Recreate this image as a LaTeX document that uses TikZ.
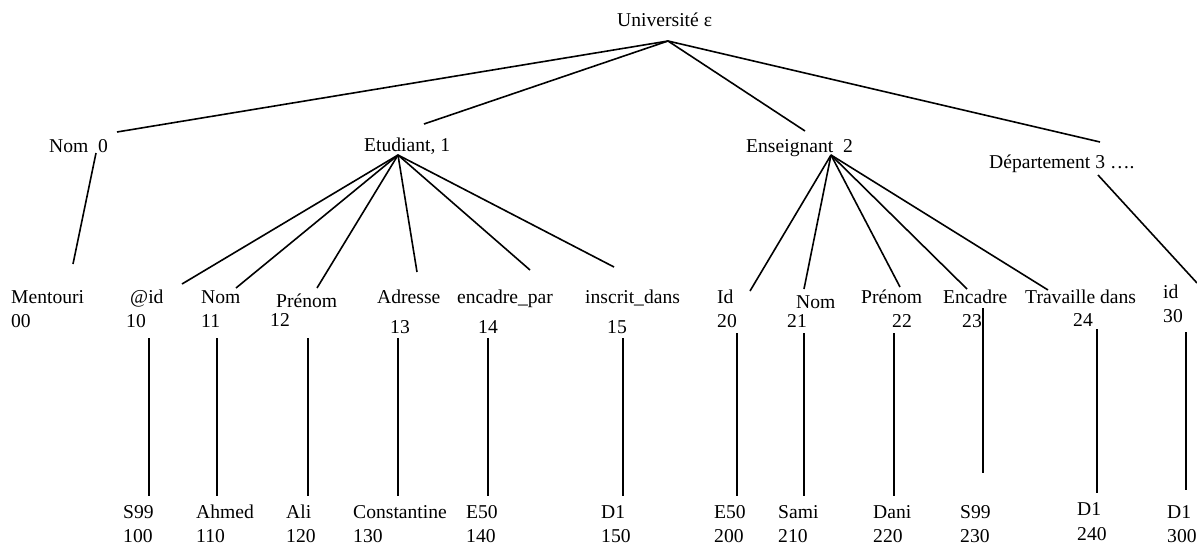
\documentclass[tikz,border=0pt]{standalone}
\usepackage{fontspec}
\setmainfont{Liberation Serif}
\begin{document}
\begin{tikzpicture}[x=1pt,y=-1pt,
  lbl/.style={anchor=base west,inner sep=0pt,font=\fontsize{19.6}{23}\selectfont},
  edge/.style={line width=1.6pt}]
\useasboundingbox (0,0) rectangle (1197,544);

% ---- root ----
\node[lbl] (univ) at (617,26) {Université ε};
\coordinate (univA) at (668,41);

% ---- first level ----
\node[lbl] (nom0) at (49,152) {Nom\ \ 0};
\node[lbl] (etu)  at (364,151) {Etudiant, 1};
\node[lbl] (ens)  at (746,152) {Enseignant\ \ 2};
\node[lbl] (dep)  at (989,168) {Département 3 ….};

\coordinate (nom0T) at (117,132);
\coordinate (etuT)  at (424,124);
\coordinate (ensT)  at (805,131);
\coordinate (depT)  at (1100,142);

\foreach \e in {nom0T,etuT,ensT,depT} \draw[edge] (univA) -- (\e);

% ---- second level: Nom ----
\node[lbl] (ment) at (11,303) {Mentouri};
\node[lbl] (n00)  at (11,327) {00};
\coordinate (nom0B) at (96,153);
\coordinate (mentT) at (73,264);
\draw[edge] (nom0B) -- (mentT);

% ---- second level: Etudiant ----
\node[lbl] (eid)  at (130,303) {@id};
\node[lbl] (n10)  at (126,327) {10};
\node[lbl] (enom) at (201,303) {Nom};
\node[lbl] (n11)  at (201,327) {11};
\node[lbl] (epre) at (276,307) {Prénom};
\node[lbl] (n12)  at (270,326) {12};
\node[lbl] (eadr) at (377,303) {Adresse};
\node[lbl] (n13)  at (390,333) {13};
\node[lbl] (eenc) at (457,303) {encadre\_par};
\node[lbl] (n14)  at (478,333) {14};
\node[lbl] (eins) at (585,303) {inscrit\_dans};
\node[lbl] (n15)  at (607,333) {15};

\coordinate (etuA) at (398,155);
\coordinate (eidT)  at (182,284);
\coordinate (enomT) at (236,288);
\coordinate (epreT) at (317,288);
\coordinate (eadrT) at (417,272);
\coordinate (eencT) at (530,270);
\coordinate (einsT) at (614,267);
\foreach \e in {eidT,enomT,epreT,eadrT,eencT,einsT} \draw[edge] (etuA) -- (\e);

% ---- second level: Enseignant ----
\node[lbl] (pid)  at (717,303) {Id};
\node[lbl] (n20)  at (717,327) {20};
\node[lbl] (pnom) at (796,308) {Nom};
\node[lbl] (n21)  at (787,327) {21};
\node[lbl] (ppre) at (861,303) {Prénom};
\node[lbl] (n22)  at (892,327) {22};
\node[lbl] (penc) at (943,303) {Encadre};
\node[lbl] (n23)  at (962,327) {23};
\node[lbl] (ptra) at (1025,303) {Travaille dans};
\node[lbl] (n24)  at (1073,326) {24};

\coordinate (ensA) at (831,155);
\coordinate (pidT)  at (750,291);
\coordinate (pnomT) at (804,289);
\coordinate (ppreT) at (900,287);
\coordinate (pencT) at (967,289);
\coordinate (ptraT) at (1048,290);
\foreach \e in {pidT,pnomT,ppreT,pencT,ptraT} \draw[edge] (ensA) -- (\e);

% ---- second level: Département ----
\node[lbl] (did) at (1163,298) {id};
\node[lbl] (n30) at (1163,322) {30};
\coordinate (depB) at (1098,175);
\coordinate (didT) at (1197,283);
\draw[edge] (depB) -- (didT);

% ---- values ----
\node[lbl] (vS99a) at (123,518) {S99};
\node[lbl] (n100)  at (123,542) {100};
\node[lbl] (vAhm)  at (196,518) {Ahmed};
\node[lbl] (n110)  at (196,542) {110};
\node[lbl] (vAli)  at (286,518) {Ali};
\node[lbl] (n120)  at (286,542) {120};
\node[lbl] (vCon)  at (353,518) {Constantine};
\node[lbl] (n130)  at (353,542) {130};
\node[lbl] (vE50a) at (466,518) {E50};
\node[lbl] (n140)  at (466,542) {140};
\node[lbl] (vD1a)  at (601,518) {D1};
\node[lbl] (n150)  at (601,542) {150};
\node[lbl] (vE50b) at (714,518) {E50};
\node[lbl] (n200)  at (714,542) {200};
\node[lbl] (vSam)  at (778,518) {Sami};
\node[lbl] (n210)  at (778,542) {210};
\node[lbl] (vDan)  at (873,518) {Dani};
\node[lbl] (n220)  at (873,542) {220};
\node[lbl] (vS99b) at (960,518) {S99};
\node[lbl] (n230)  at (960,542) {230};
\node[lbl] (vD1b)  at (1077,515) {D1};
\node[lbl] (n240)  at (1077,540) {240};
\node[lbl] (vD1c)  at (1167,518) {D1};
\node[lbl] (n300)  at (1167,542) {300};

% ---- value links ----
\foreach \n/\x/\t/\b in {10/149/338/496, 11/217/338/496, 12/308/338/496,
    13/398/338/496, 14/488/338/496, 15/623/338/496,
    20/737/333/496, 21/804/333/496, 22/894/333/496,
    23/983/308/473, 24/1097/329/493, 30/1186/332/490} {
  \coordinate (v\n t) at (\x,\t);
  \coordinate (v\n b) at (\x,\b);
  \draw[edge] (v\n t) -- (v\n b);
}
\end{tikzpicture}
\end{document}
